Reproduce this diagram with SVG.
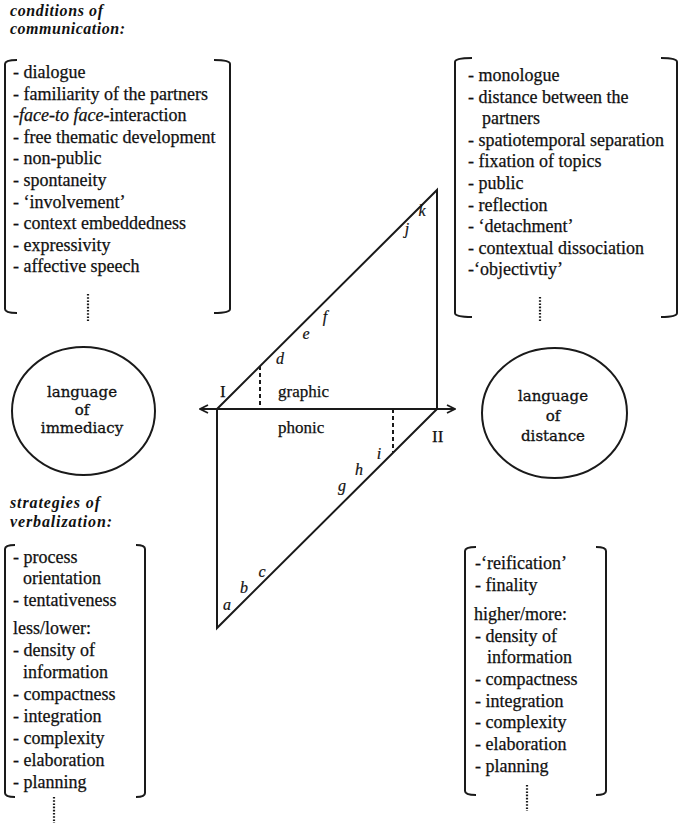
<svg xmlns="http://www.w3.org/2000/svg" width="679" height="823" viewBox="0 0 679 823">
<style>
.t{font-family:"Liberation Serif","Times New Roman",serif;font-size:18px;fill:#111;stroke:#111;stroke-width:0.25}
.h{font-family:"Liberation Serif","Times New Roman",serif;font-size:16px;font-weight:bold;font-style:italic;fill:#111}
.c{font-family:"DejaVu Serif","Liberation Serif",serif;font-size:15px;fill:#111;stroke:#111;stroke-width:0.3;text-anchor:middle}
.l{font-family:"Liberation Serif","Times New Roman",serif;font-size:16px;font-style:italic;fill:#111;stroke:#111;stroke-width:0.2;text-anchor:middle}
.m{font-family:"Liberation Serif","Times New Roman",serif;font-size:17px;fill:#111;stroke:#111;stroke-width:0.25}
.br{fill:none;stroke:#1a1a1a;stroke-width:2}
.ln{fill:none;stroke:#1a1a1a;stroke-width:2}
.ds{fill:none;stroke:#1a1a1a;stroke-width:2;stroke-dasharray:4 3}
.dt{fill:none;stroke:#1a1a1a;stroke-width:2.2;stroke-dasharray:1.6 1.6}
.el{fill:none;stroke:#1a1a1a;stroke-width:2}
</style>
<defs>
<marker id="arr" viewBox="0 0 10 10" refX="9" refY="5" markerWidth="10" markerHeight="10" markerUnits="userSpaceOnUse" orient="auto-start-reverse">
<path d="M1,1 L9,5 L1,9" fill="none" stroke="#1a1a1a" stroke-width="1.8"/>
</marker>
</defs>
<rect width="679" height="823" fill="#fff"/>

<g id="conditions">
<text class="h" x="10" y="16" textLength="93" lengthAdjust="spacing">conditions of</text>
<text class="h" x="10" y="34" textLength="115" lengthAdjust="spacing">communication:</text>
</g>

<g id="immediacy-conditions">
<path class="br" d="M17,60 Q5,60 5,64 L5,309 Q5,313 17,313"/>
<path class="br" d="M214,60 Q230,60 230,64 L230,309 Q230,313 214,313"/>
<text class="t" x="13" y="78">- dialogue</text>
<text class="t" x="13" y="99.6">- familiarity of the partners</text>
<text class="t" x="13" y="121.2">-<tspan font-style="italic">face-to face</tspan>-interaction</text>
<text class="t" x="13" y="142.8">- free  thematic development</text>
<text class="t" x="13" y="164.4">- non-public</text>
<text class="t" x="13" y="186">- spontaneity</text>
<text class="t" x="13" y="207.6">- ‘involvement’</text>
<text class="t" x="13" y="229.2">- context embeddedness</text>
<text class="t" x="13" y="250.8">- expressivity</text>
<text class="t" x="13" y="272.4">- affective speech</text>
<line class="dt" x1="88" y1="294" x2="88" y2="321"/>
</g>

<g id="distance-conditions">
<path class="br" d="M472,58 Q455,58 455,62 L455,313 Q455,317 472,317"/>
<path class="br" d="M661,58 Q677,58 677,62 L677,313 Q677,317 661,317"/>
<text class="t" x="468" y="81">- monologue</text>
<text class="t" x="468" y="102.6">- distance between the</text>
<text class="t" x="482" y="124.2">partners</text>
<text class="t" x="468" y="145.8">- spatiotemporal separation</text>
<text class="t" x="468" y="167.4">- fixation of topics</text>
<text class="t" x="468" y="189">- public</text>
<text class="t" x="468" y="210.6">- reflection</text>
<text class="t" x="468" y="232.2">- ‘detachment’</text>
<text class="t" x="468" y="253.8">- contextual dissociation</text>
<text class="t" x="468" y="275.4">-‘objectivtiy’</text>
<line class="dt" x1="540" y1="297" x2="540" y2="321"/>
</g>

<g id="immediacy">
<ellipse class="el" cx="83.5" cy="411" rx="71.5" ry="64"/>
<text class="c" x="82" y="397">language</text>
<text class="c" x="82" y="415">of</text>
<text class="c" x="82" y="433">immediacy</text>
</g>

<g id="distance">
<ellipse class="el" cx="554.5" cy="413" rx="72.5" ry="65"/>
<text class="c" x="553" y="401">language</text>
<text class="c" x="553" y="421">of</text>
<text class="c" x="553" y="441">distance</text>
</g>

<g id="connectors">
<line class="ln" x1="200" y1="409" x2="455" y2="409" marker-start="url(#arr)" marker-end="url(#arr)"/>
<polyline class="ln" points="217,409 437,190 437,409"/>
<polyline class="ln" points="217,409 217,628 437,409"/>
<line class="ds" x1="260" y1="366" x2="260" y2="409"/>
<line class="ds" x1="393" y1="409" x2="393" y2="452"/>
</g>

<g id="medium-labels">
<text class="m" x="220" y="397">I</text>
<text class="m" x="278" y="397">graphic</text>
<text class="m" x="278" y="433">phonic</text>
<text class="m" x="432" y="442">II</text>
<text class="l" x="280" y="364">d</text>
<text class="l" x="306" y="339">e</text>
<text class="l" x="325" y="322">f</text>
<text class="l" x="407" y="234">j</text>
<text class="l" x="422" y="216">k</text>
<text class="l" x="227" y="610">a</text>
<text class="l" x="244" y="593">b</text>
<text class="l" x="262" y="577">c</text>
<text class="l" x="342" y="491">g</text>
<text class="l" x="359" y="475">h</text>
<text class="l" x="379" y="459">i</text>
</g>

<g id="strategies">
<text class="h" x="10" y="508" textLength="90" lengthAdjust="spacing">strategies of</text>
<text class="h" x="10" y="527" textLength="102" lengthAdjust="spacing">verbalization:</text>
</g>

<g id="immediacy-strategies">
<path class="br" d="M15,545 Q5,545 5,549 L5,793 Q5,797 15,797"/>
<path class="br" d="M136,545 Q145,545 145,549 L145,793 Q145,797 136,797"/>
<text class="t" x="13" y="563">- process</text>
<text class="t" x="23" y="584">orientation</text>
<text class="t" x="13" y="606">- tentativeness</text>
<text class="t" x="13" y="634">less/lower:</text>
<text class="t" x="13" y="656">- density of</text>
<text class="t" x="23" y="678">information</text>
<text class="t" x="13" y="700">- compactness</text>
<text class="t" x="13" y="722">- integration</text>
<text class="t" x="13" y="744">- complexity</text>
<text class="t" x="13" y="766">- elaboration</text>
<text class="t" x="13" y="788">- planning</text>
<line class="dt" x1="54" y1="797" x2="54" y2="823"/>
</g>

<g id="distance-strategies">
<path class="br" d="M476,547 Q465,547 465,551 L465,791 Q465,795 476,795"/>
<path class="br" d="M596,547 Q606,547 606,551 L606,791 Q606,795 596,795"/>
<text class="t" x="475" y="569">-‘reification’</text>
<text class="t" x="475" y="591">- finality</text>
<text class="t" x="474" y="620">higher/more:</text>
<text class="t" x="475" y="642">- density of</text>
<text class="t" x="487" y="663">information</text>
<text class="t" x="475" y="685">- compactness</text>
<text class="t" x="475" y="707">- integration</text>
<text class="t" x="475" y="728">- complexity</text>
<text class="t" x="475" y="750">- elaboration</text>
<text class="t" x="475" y="772">- planning</text>
<line class="dt" x1="527" y1="785" x2="527" y2="811"/>
</g>
</svg>
